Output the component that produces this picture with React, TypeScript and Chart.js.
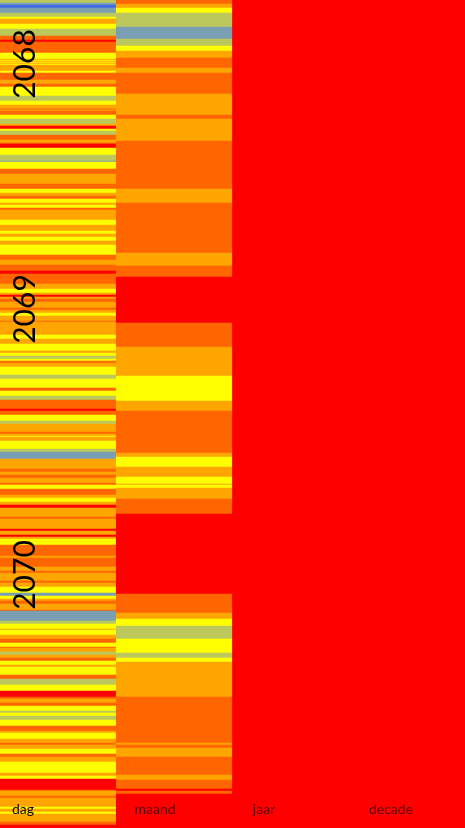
import React, { useEffect, useRef } from "react";
import { Chart, registerables } from "chart.js";

Chart.register(...registerables);

const categories = ["dag", "maand", "jaar", "decade"];
const years = ["2068", "2069", "2070"];

const palette: Record<string, string> = {
  R: "#ff0000",
  D: "#ff6600",
  O: "#ffa500",
  Y: "#ffff00",
  G: "#bcc85c",
  B: "#7a9fb2",
  U: "#4169e1",
};

// Band end along the time axis, with the class of each band
const dagEnds = [
  3,5,8,13,17,19,24,29,36,40,
  42,53,59,60,61,62,63,64,65,71,
  73,80,84,87,96,101,105,109,110,111,
  115,119,124,126,129,131,135,140,143,144,
  148,155,161,162,169,174,184,189,193,196,
  199,203,205,208,210,220,221,225,231,234,
  237,241,245,247,255,260,265,271,274,284,
  289,293,295,297,299,302,308,310,313,316,
  321,322,335,339,344,351,353,356,359,361,
  363,367,375,379,388,391,396,400,409,411,
  415,421,424,432,434,436,437,441,449,452,
  459,469,472,475,478,483,485,489,495,498,
  502,505,508,517,519,529,531,535,537,539,
  545,556,558,567,571,573,581,583,587,593,
  596,599,601,604,610,611,621,624,629,630,
  635,639,643,647,648,652,655,658,661,665,
  667,675,679,685,691,697,699,703,706,711,
  713,716,720,722,726,731,733,739,743,745,
  749,754,757,762,773,776,779,783,790,791,
  796,798,807,809,812,814,822,825,828,
];
const dagLevels = [
  "GBUBGYOYGD",
  "RDYOYOYOYO",
  "YDODYGYODO",
  "DYGORYGDOD",
  "RYGBYDODYO",
  "DYOYDOYYOY",
  "OYOYYDODRD",
  "OYORODODOY",
  "ODOYOYOYGY",
  "DOYGYDYGDR",
  "DYGODOYOYG",
  "BODODODYDO",
  "YORODORORO",
  "YDODODODOY",
  "BYODODBGYO",
  "YODYDOGODY",
  "OYDGYRDODY",
  "GYGYYDOYOD",
  "OYDOYOYRRD",
  "ODOYOYODR",
].join("");
const maandEnds = [4,8,13,27,39,46,51,58,68,73,94,115,119,141,189,203,253,266,277,323,347,376,401,411,453,457,467,477,484,485,488,499,514,594,613,619,626,639,653,658,662,697,743,745,748,757,775,780,789,791,794,828];
const maandLevels = "DOYGBGYODODODODODODRDOYODOYOYOYODRDOYGYGYODODODODRDR";
const jaarEnds = [828];
const jaarLevels = "R";
const decadeEnds = [828];
const decadeLevels = "R";

const columns = [
  { ends: dagEnds, levels: dagLevels },
  { ends: maandEnds, levels: maandLevels },
  { ends: jaarEnds, levels: jaarLevels },
  { ends: decadeEnds, levels: decadeLevels },
];

const points: { x: string; y: [number, number] }[] = [];
const colors: string[] = [];
columns.forEach((col, c) => {
  let start = 0;
  col.ends.forEach((end, i) => {
    points.push({ x: categories[c], y: [start, end] });
    colors.push(palette[col.levels[i]] ?? palette.O);
    start = end;
  });
});

const yearCentres = [64, 309, 575];
const labelCentres = [23, 155, 264, 391];
const labelColors = ["#0c0500", "#5a0000", "#5a0000", "#5a0000"];

const textPlugin = {
  id: "overlayText",
  afterDatasetsDraw(chart: any) {
    const { ctx } = chart;
    const yScale = chart.scales.y;
    ctx.save();
    ctx.textAlign = "center";
    ctx.textBaseline = "middle";
    ctx.font = '14px Lato, "Open Sans", sans-serif';
    categories.forEach((label, i) => {
      ctx.fillStyle = labelColors[i];
      ctx.fillText(label, labelCentres[i], yScale.getPixelForValue(809));
    });
    ctx.font = '30px Lato, "Open Sans", sans-serif';
    ctx.fillStyle = "#000000";
    years.forEach((label, i) => {
      ctx.save();
      ctx.translate(25, yScale.getPixelForValue(yearCentres[i]));
      ctx.rotate(-Math.PI / 2);
      ctx.fillText(label, 0, 0);
      ctx.restore();
    });
    ctx.restore();
  },
};

export default function App() {
  const ref = useRef<HTMLCanvasElement | null>(null);

  useEffect(() => {
    document.body.style.margin = "0";
    document.body.style.background = "#ff0000";
    const chart = new Chart(ref.current as HTMLCanvasElement, {
      type: "bar",
      data: {
        labels: categories,
        datasets: [
          {
            data: points as any,
            backgroundColor: colors,
            borderWidth: 0,
            barPercentage: 1,
            categoryPercentage: 1,
          },
        ],
      },
      plugins: [textPlugin],
      options: {
        animation: false,
        responsive: false,
        maintainAspectRatio: false,
        layout: { padding: { left: 0, top: 0, bottom: 0, right: -1 } },
        plugins: { legend: { display: false }, tooltip: { enabled: false }, title: { display: false } },
        scales: {
          x: { display: false, grid: { display: false } },
          y: { display: false, reverse: true, min: 0, max: 828, grid: { display: false } },
        },
      },
    });
    return () => chart.destroy();
  }, []);

  return <canvas ref={ref} width={465} height={828} style={{ display: "block" }} />;
}
